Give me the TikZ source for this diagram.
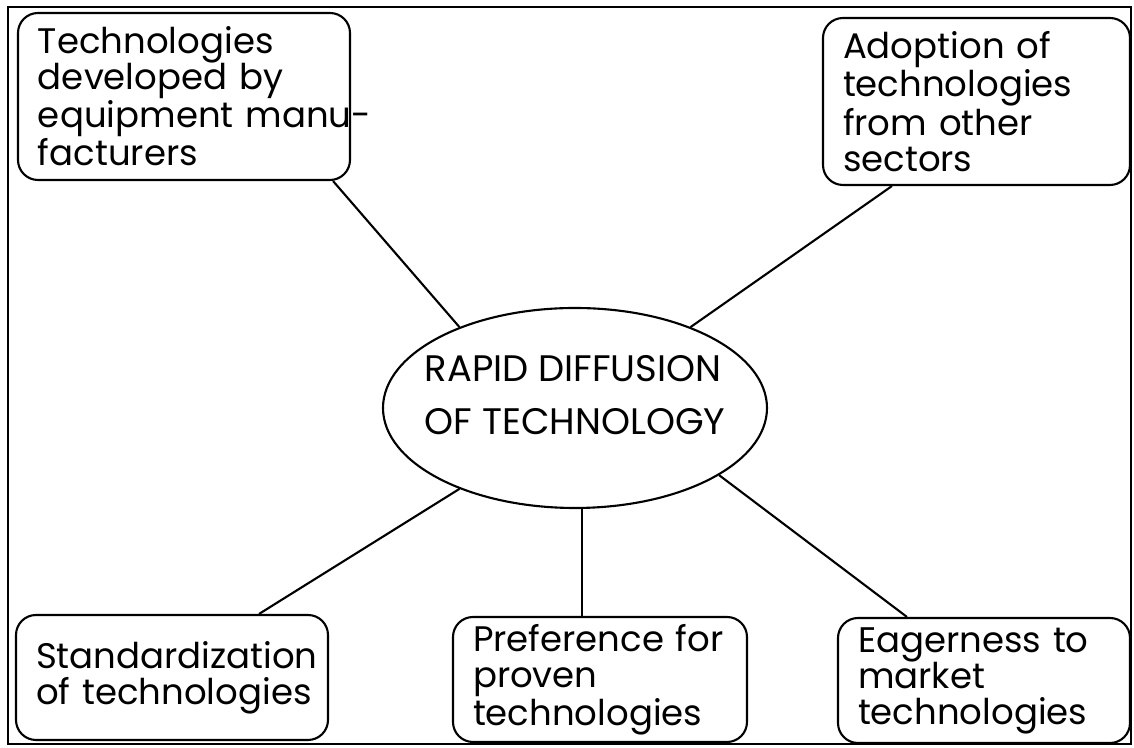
\documentclass[tikz,border=0pt]{standalone}
\usepackage{fontspec}
\setmainfont{Poppins}
\usetikzlibrary{shapes.geometric}

\begin{document}
\begin{tikzpicture}[
		box/.style = {
			shape = rectangle,
			draw,
			rounded corners = 0.4cm,
			line width = 1.2pt,
			inner xsep = 0.4cm,
			inner ysep = 0.1cm,
			align = left,
			font = \fontsize{20.2}{20.5}\selectfont,
			execute at begin node = {\hyphenpenalty = 10000 \exhyphenpenalty = 10000},
		},
		hub/.style = {
			shape = ellipse,
			draw,
			line width = 1.2pt,
			minimum width = 7.68cm,
			minimum height = 4cm,
		},
		link/.style = {line width = 1.2pt},
	]
	\useasboundingbox (0, 0) rectangle (22.68, 14.96);
	\draw[line width = 1pt] (0.16, 0.08) rectangle (22.62, 14.82);

	\draw (11.5, 6.8) node (core) [hub] {};
	\draw (11.5, 7.06) node (coretxt) [align = left, font = \fontsize{21}{30}\selectfont] {RAPID DIFFUSION\\OF TECHNOLOGY};

	\draw (3.68, 13.03) node (tl) [box, text width = 5.84cm, minimum height = 3.34cm] {Technologies\\developed~by\\equipment~manu-\\facturers};
	\draw (19.53, 12.93) node (tr) [box, text width = 5.34cm, minimum height = 3.34cm] {Adoption~of\\technologies\\from~other\\sectors};
	\draw (3.44, 1.41) node (bl) [box, text width = 5.44cm, minimum height = 2.5cm] {Standardization\\of~technologies};
	\draw (12.0, 1.37) node (bm) [box, text width = 5.08cm, minimum height = 2.5cm] {Preference~for\\proven\\technologies};
	\draw (19.68, 1.35) node (br) [box, text width = 5.04cm, minimum height = 2.5cm] {Eagerness~to\\market\\technologies};

	\draw[link] (core.145) -- ([xshift = -0.36cm]tl.south east);
	\draw[link] (core.35) -- ([xshift = 1.4cm]tr.south west);
	\draw[link] (core.215) -- ([xshift = -1.4cm]bl.north east);
	\draw[link] (core.274) -- (core.274 |- bm.north);
	\draw[link] (core.335) -- ([xshift = 1.4cm]br.north west);
\end{tikzpicture}
\end{document}
